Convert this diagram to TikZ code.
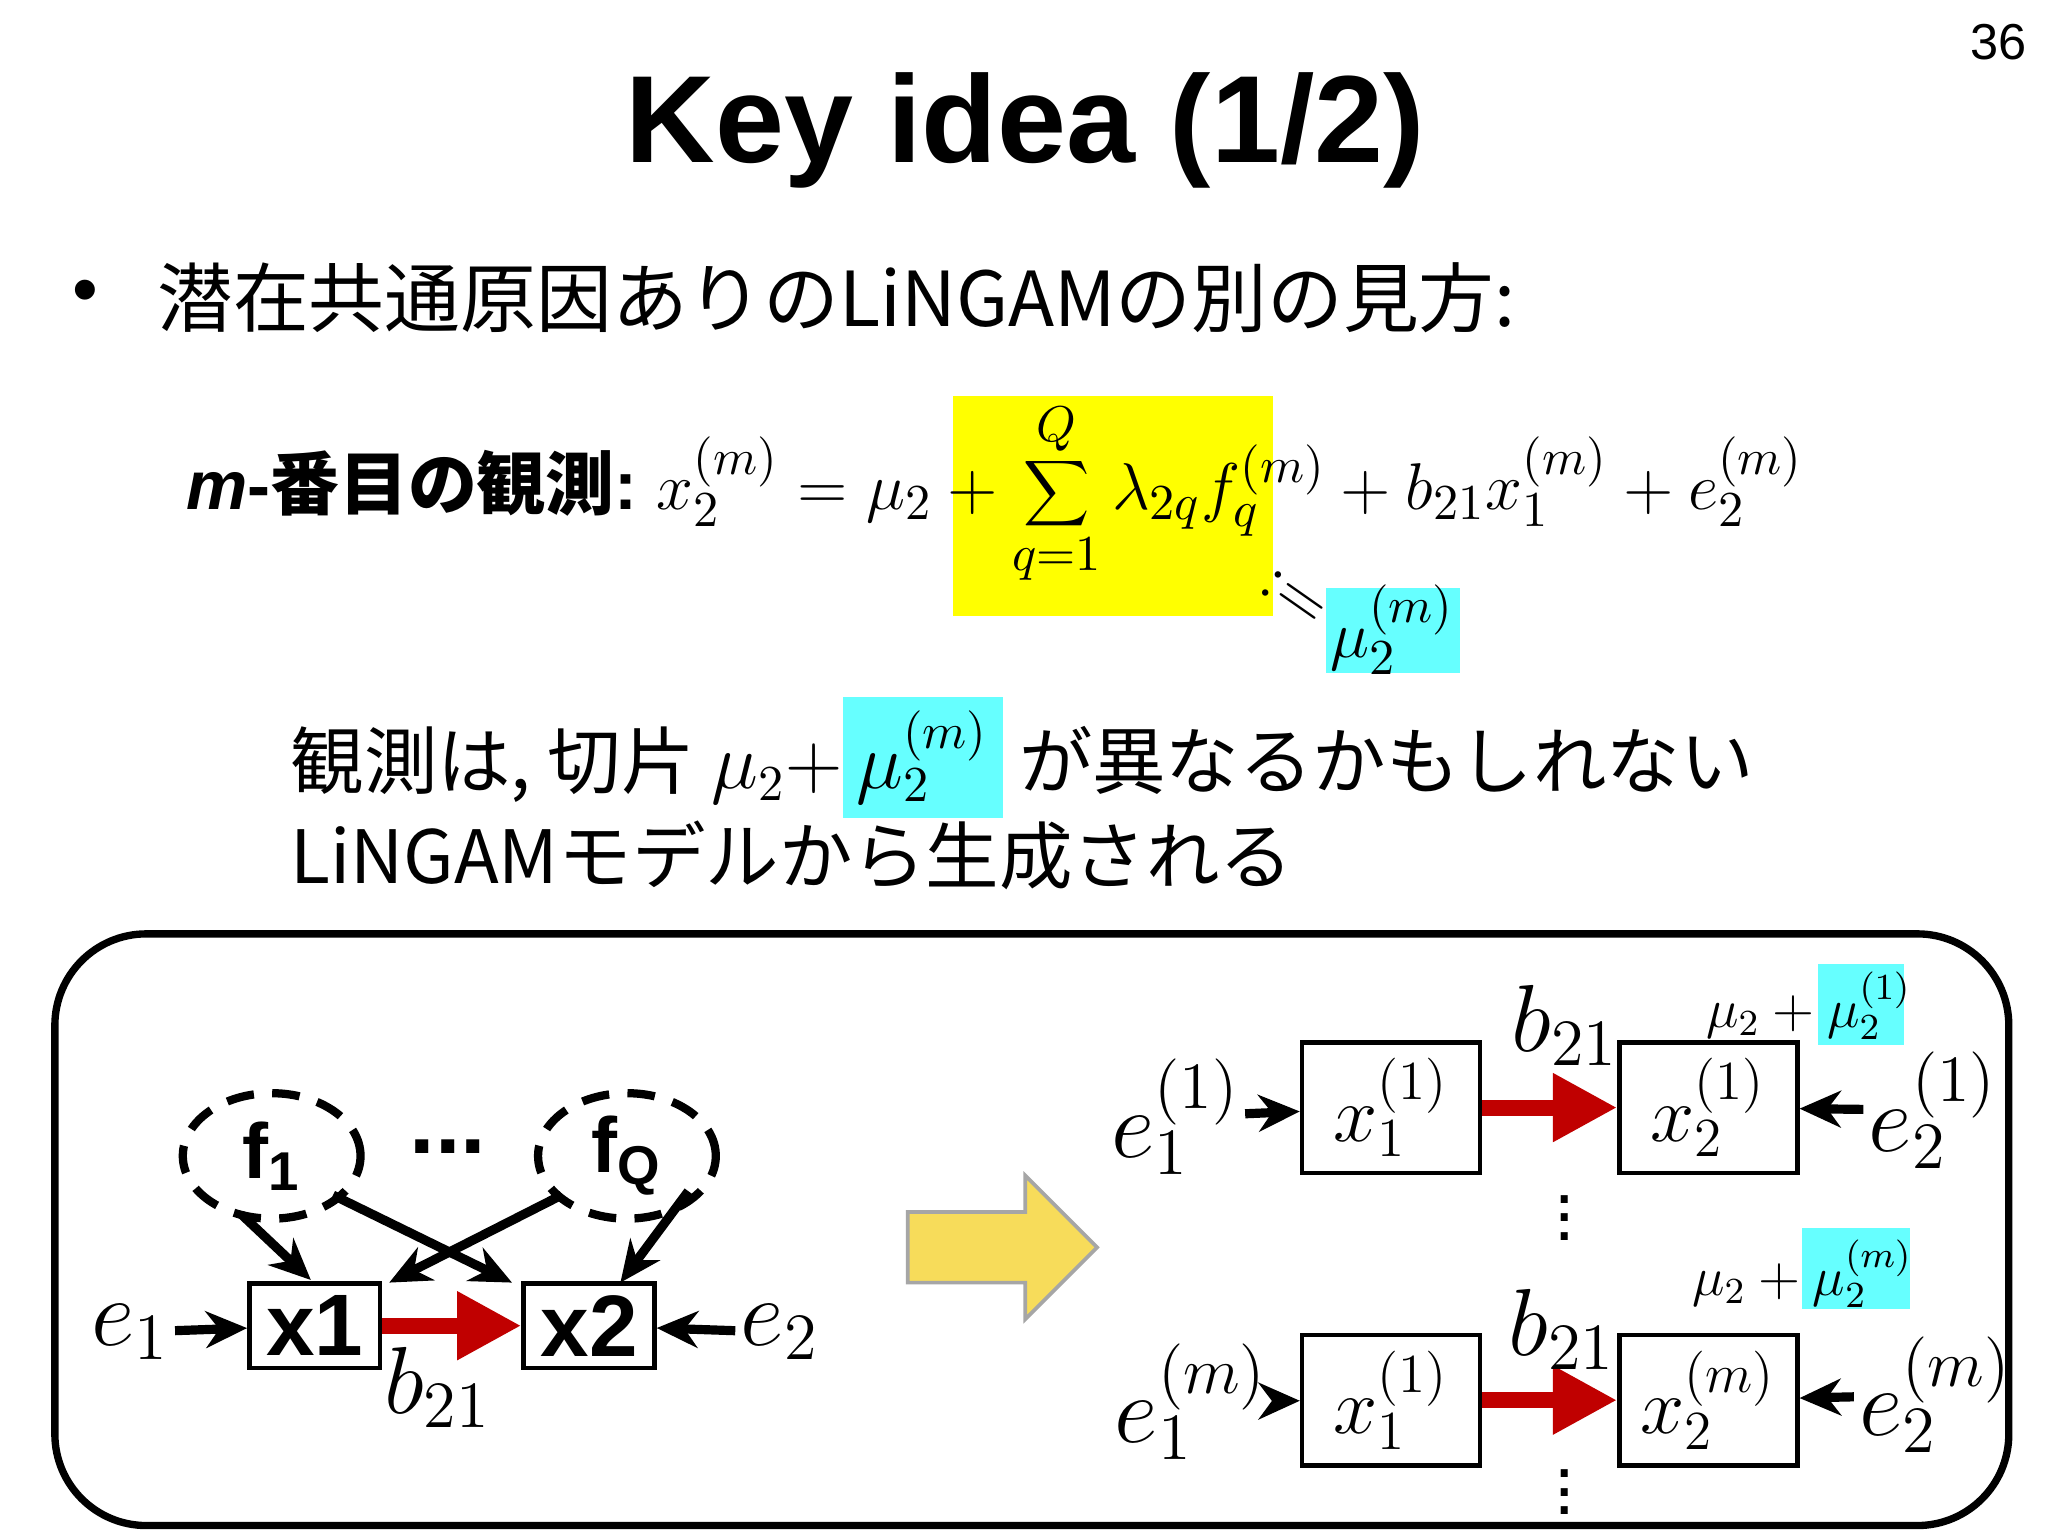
\documentclass[tikz,border=0pt]{standalone}
\usepackage{fontspec}
\setmainfont{Liberation Sans}
\newfontfamily\jp{Noto Sans CJK JP}
\usetikzlibrary{arrows.meta,shapes.geometric}
\definecolor{redarr}{HTML}{C00000}
\definecolor{cyanbg}{HTML}{66FFFF}
\definecolor{yelbg}{HTML}{FFFF00}
\definecolor{bigarr}{HTML}{F7DC5A}
\begin{document}
\begin{tikzpicture}[x=0.01cm,y=-0.01cm,
  bx/.style={draw,line width=1pt,minimum width=#1,inner sep=0pt},
  blk/.style={-{Stealth[length=9pt,width=8pt]},line width=2pt},
  red/.style={-{Triangle[length=14pt,width=14pt]},line width=3.5pt,draw=redarr,color=redarr},
  lab/.style={font=\fontsize{20}{22}\selectfont,inner sep=1pt},
  smalllab/.style={font=\fontsize{12}{14}\selectfont},
  fell/.style={draw,dash pattern=on 6pt off 4pt,line width=1.8pt,ellipse,minimum width=1.36cm,minimum height=0.96cm,inner sep=0pt}]
\useasboundingbox (0,0) rectangle (1568,1176);
\fill[white] (0,0) rectangle (1568,1176);
\node (pg) at (1530,32) {\fontsize{11}{13}\selectfont 36};
\node (title) at (785,100) {\fontsize{27}{30}\selectfont\bfseries Key idea (1/2)};
\node (bul) at (65,228) {\fontsize{16}{18}\selectfont •};
\node[anchor=west] (l1) at (108,228) {\fontsize{16.5}{18}\selectfont\jp 潜在共通原因ありのLiNGAMの別の見方:};
% equation
\fill[yelbg] (730,303) rectangle (975,472);
\fill[cyanbg] (1015,450) rectangle (1118,515);
\node[anchor=west] (eq) at (130,378) {\fontsize{15}{17}\selectfont \textbf{\textit{m}-{\jp 番目の観測}:}\ $\displaystyle x_2^{(m)}=\mu_2+\sum_{q=1}^{Q}\lambda_{2q}f_q^{(m)}+b_{21}x_1^{(m)}+e_2^{(m)}$};
\node[rotate=-35] (def) at (990,458) {\fontsize{15}{17}\selectfont $\mathrel{:}=$};
\node (mu2m) at (1066,482) {\fontsize{15}{17}\selectfont $\mu_2^{(m)}$};
% text
\node[anchor=west] (t1) at (210,580) {\fontsize{16}{18}\selectfont\jp 観測は, 切片 $\mu_2+$\colorbox{cyanbg}{$\mu_2^{(m)}$} が異なるかもしれない};
\node[anchor=west] (t2) at (210,655) {\fontsize{16}{18}\selectfont\jp LiNGAMモデルから生成される};
% frame
\draw[line width=1.6pt,rounded corners=0.7cm] (42,715) rectangle (1538,1168);
% left graph
\node[fell] (f1) at (208,885) {\fontsize{17}{19}\selectfont\bfseries f\textsubscript{1}};
\node[fell] (fQ) at (480,885) {\fontsize{17}{19}\selectfont\bfseries f\textsubscript{Q}};
\node (dots) at (343,878) {\fontsize{20}{22}\selectfont\bfseries ...};
\node[bx=1cm,minimum height=0.65cm] (x1) at (241,1015) {\fontsize{19}{21}\selectfont\bfseries x1};
\node[bx=1cm,minimum height=0.65cm] (x2) at (451,1015) {\fontsize{19}{21}\selectfont\bfseries x2};
\draw[red] (x1) -- (x2);
\node[lab] (b1) at (335,1062) {$b_{21}$};
\node[lab] (e1) at (100,1020) {$e_1$};
\node[lab] (e2) at (597,1020) {$e_2$};
\draw[blk] (e1) -- (x1);
\draw[blk] (e2) -- (x2);
\draw[blk] (185,930) -- (238,980);
\draw[blk] (255,915) -- (392,982);
\draw[blk] (430,915) -- (298,982);
\draw[blk] (527,912) -- (475,982);
% big arrow
\draw[fill=bigarr,draw=gray!70,line width=0.8pt] (695,928) -- (785,928) -- (785,900) -- (840,955) -- (785,1010) -- (785,982) -- (695,982) -- cycle;
% right top
\node[bx=1.36cm,minimum height=1cm] (r1) at (1065,848) {\fontsize{18}{20}\selectfont $x_1^{(1)}$};
\node[bx=1.36cm,minimum height=1cm] (r2) at (1308,848) {\fontsize{18}{20}\selectfont $x_2^{(1)}$};
\draw[red] (r1) -- (r2);
\node[lab] (re1) at (900,855) {$e_1^{(1)}$};
\node[lab] (re2) at (1480,850) {$e_2^{(1)}$};
\draw[blk] (re1) -- (r1);
\draw[blk] (re2) -- (r2);
\node[lab] (rb1) at (1198,785) {$b_{21}$};
\fill[cyanbg] (1392,738) rectangle (1458,800);
\node[smalllab] (rm1) at (1385,770) {$\mu_2+\mu_2^{(1)}$};
\node (vd1) at (1198,922) {\fontsize{16}{18}\selectfont$\vdots$};
% right bottom
\node[bx=1.36cm,minimum height=1cm] (s1) at (1065,1072) {\fontsize{18}{20}\selectfont $x_1^{(1)}$};
\node[bx=1.36cm,minimum height=1cm] (s2) at (1308,1072) {\fontsize{18}{20}\selectfont $x_2^{(m)}$};
\draw[red] (s1) -- (s2);
\node[lab] (se1) at (912,1073) {$e_1^{(m)}$};
\node[lab] (se2) at (1482,1068) {$e_2^{(m)}$};
\draw[blk] (se1) -- (s1);
\draw[blk] (se2) -- (s2);
\node[lab] (sb1) at (1196,1018) {$b_{21}$};
\fill[cyanbg] (1380,940) rectangle (1462,1002);
\node[smalllab] (sm1) at (1380,975) {$\mu_2+\mu_2^{(m)}$};
\node (vd2) at (1198,1132) {\fontsize{16}{18}\selectfont$\vdots$};
\end{tikzpicture}
\end{document}
